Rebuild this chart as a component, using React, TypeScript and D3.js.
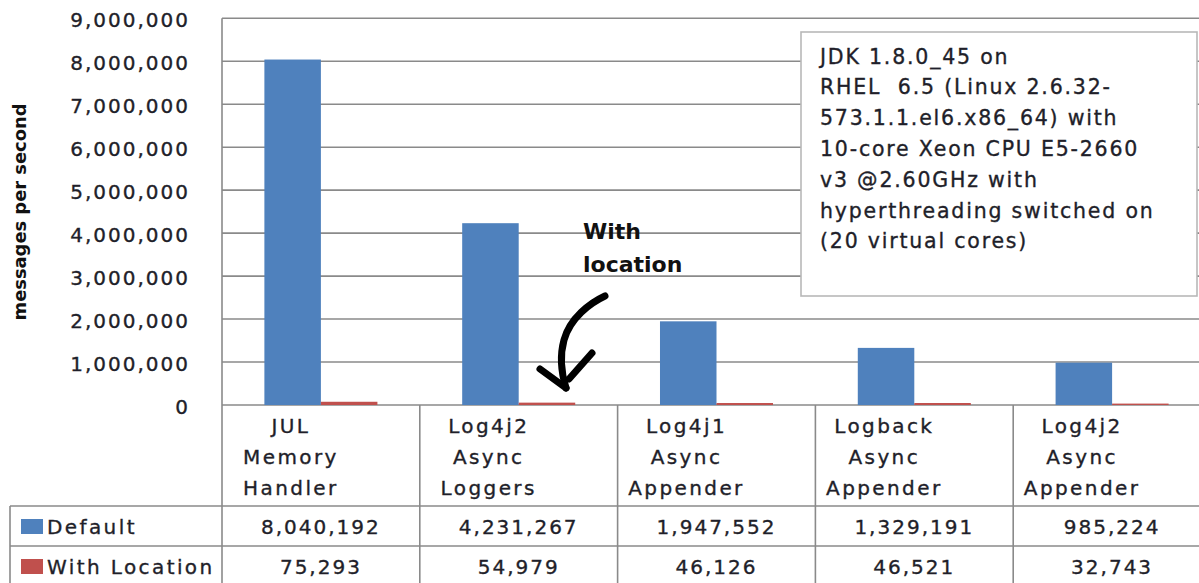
import React from "react";
import * as d3 from "d3";

const categoryLines: string[][] = [
  ["JUL", "Memory", "Handler"],
  ["Log4j2", "Async", "Loggers"],
  ["Log4j1", "Async", "Appender"],
  ["Logback", "Async", "Appender"],
  ["Log4j2", "Async", "Appender"],
];
const seriesNames = ["Default", "With Location"];
const defaultValues = [8040192, 4231267, 1947552, 1329191, 985224];
const withLocationValues = [75293, 54979, 46126, 46521, 32743];
const yTicks = [0, 1000000, 2000000, 3000000, 4000000, 5000000, 6000000, 7000000, 8000000, 9000000];
const yAxisTitle = "messages per second";
const noteLines = [
  "JDK 1.8.0_45 on",
  "RHEL  6.5 (Linux 2.6.32-",
  "573.1.1.el6.x86_64) with",
  "10-core Xeon CPU E5-2660",
  "v3 @2.60GHz with",
  "hyperthreading switched on",
  "(20 virtual cores)",
];
const calloutLines = ["With", "location"];

const seriesValues = [defaultValues, withLocationValues];
const seriesColors = ["#4F81BD", "#C0504D"];

const W = 1199;
const H = 583;
const plotLeft = 222;
const catWidth = 197.8;
const plotRight = plotLeft + catWidth * categoryLines.length;
const plotTop = 18.3;
const plotBottom = 405;
const tableLeft = 10;
const rowLabelBottom = 506;
const row1Bottom = 546;

const GRID = "#8a8a8a";
const TEXT = "#1f1f2a";
const FONT = "'DejaVu Sans', Verdana, sans-serif";
const textStroke = { stroke: TEXT, strokeWidth: 0.35 };

export default function App() {
  const cats = categoryLines.map((c) => c.join(" "));
  const x = d3.scaleBand<string>().domain(cats).range([plotLeft, plotRight]).paddingInner(0).paddingOuter(0);
  const xs = d3.scaleBand<string>().domain(seriesNames).range([0, x.bandwidth()]).paddingInner(0).paddingOuter(0.75);
  const y = d3.scaleLinear().domain([0, 9000000]).range([plotBottom, plotTop]);
  const fmt = d3.format(",");
  const labelShift = -30;

  return (
    <svg
      width={W}
      height={H}
      viewBox={`0 0 ${W} ${H}`}
      style={{ position: "absolute", left: 0, top: 0, background: "#fff", overflow: "hidden" }}
      fontFamily={FONT}
    >
      <rect x={0} y={0} width={W} height={H} fill="#fff" />
      {yTicks.map((t) => (
        <line key={"g" + t} x1={plotLeft} x2={plotRight} y1={y(t)} y2={y(t)} stroke={GRID} strokeWidth={1.6} />
      ))}
      {yTicks.map((t) => (
        <text key={"t" + t} x={190} y={y(t) + 9} textAnchor="end" fontSize={20} letterSpacing={2} fill={TEXT} {...textStroke}>
          {fmt(t)}
        </text>
      ))}
      <text
        transform={`translate(26,212) rotate(-90)`}
        textAnchor="middle"
        fontSize={17}
        fontWeight="bold"
        fill="#111"
        textLength={217}
        lengthAdjust="spacingAndGlyphs"
      >
        {yAxisTitle}
      </text>
      {seriesNames.map((s, si) =>
        cats.map((c, ci) => {
          const v = seriesValues[si][ci];
          return (
            <rect
              key={s + c}
              x={(x(c) as number) + (xs(s) as number)}
              y={y(v)}
              width={xs.bandwidth()}
              height={y(0) - y(v)}
              fill={seriesColors[si]}
            />
          );
        })
      )}
      <line x1={plotLeft} x2={plotLeft} y1={plotTop} y2={H} stroke={GRID} strokeWidth={1.6} />
      {cats.map((c, ci) =>
        ci > 0 ? <line key={"v" + c} x1={x(c)} x2={x(c)} y1={plotBottom} y2={H} stroke={GRID} strokeWidth={1.6} /> : null
      )}
      <line x1={plotRight} x2={plotRight} y1={plotTop} y2={H} stroke={GRID} strokeWidth={1.6} />
      <line x1={tableLeft} x2={plotRight} y1={rowLabelBottom} y2={rowLabelBottom} stroke={GRID} strokeWidth={1.6} />
      <line x1={tableLeft} x2={plotRight} y1={row1Bottom} y2={row1Bottom} stroke={GRID} strokeWidth={1.6} />
      <line x1={tableLeft} x2={tableLeft} y1={rowLabelBottom} y2={H} stroke={GRID} strokeWidth={1.6} />
      {cats.map((c, ci) =>
        categoryLines[ci].map((ln, li) => (
          <text
            key={c + li}
            x={(x(c) as number) + x.bandwidth() / 2 + labelShift}
            y={433 + li * 31}
            textAnchor="middle"
            fontSize={20}
            letterSpacing={2.4}
            fill={TEXT}
            {...textStroke}
          >
            {ln}
          </text>
        ))
      )}
      {seriesNames.map((s, si) => {
        const base = si === 0 ? 534 : 574;
        return (
          <g key={"row" + s}>
            <rect x={21} y={base - 15} width={22} height={15} fill={seriesColors[si]} />
            <text x={47} y={base} fontSize={20} letterSpacing={2.4} fill={TEXT} {...textStroke}>
              {s}
            </text>
            {cats.map((c, ci) => (
              <text
                key={s + c + "v"}
                x={(x(c) as number) + x.bandwidth() / 2}
                y={base}
                textAnchor="middle"
                fontSize={20}
                letterSpacing={2}
                fill={TEXT}
                {...textStroke}
              >
                {fmt(seriesValues[si][ci])}
              </text>
            ))}
          </g>
        );
      })}
      <rect x={801} y={32} width={396} height={264} fill="#fff" stroke="#b8b8b8" strokeWidth={1.6} />
      {noteLines.map((ln, i) => (
        <text
          key={"n" + i}
          x={820}
          y={63.5 + i * 30.8}
          fontSize={20.5}
          letterSpacing={1.8}
          fill={TEXT}
          {...textStroke}
          style={{ whiteSpace: "pre" }}
        >
          {ln}
        </text>
      ))}
      {calloutLines.map((ln, i) => (
        <text key={"c" + i} x={583} y={239 + i * 33} fontSize={22} fontWeight="bold" fill="#111">
          {ln}
        </text>
      ))}
      <g fill="none" stroke="#000" strokeWidth={7} strokeLinecap="round" strokeLinejoin="round">
        <path d="M605,296 C590,303 570,318 564,340 C559,358 562,375 566,388" />
        <path d="M540,369 L566,388" />
        <path d="M592,353 L569,379" />
      </g>
    </svg>
  );
}
